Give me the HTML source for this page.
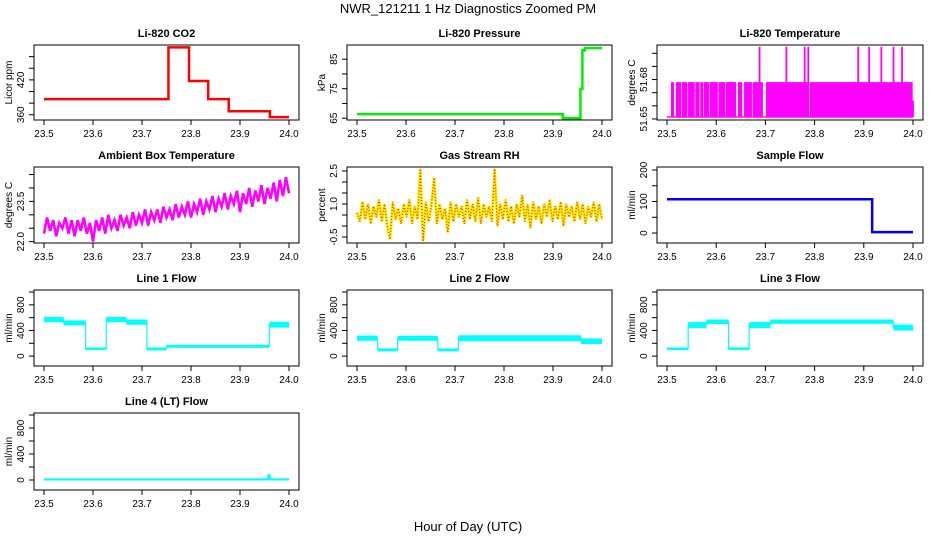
<!DOCTYPE html>
<html><head><meta charset="utf-8"><style>
html,body{margin:0;padding:0;background:#fff;}
svg{display:block;font-family:"Liberation Sans",sans-serif;}
</style></head><body>
<svg id="fig" width="936" height="540" viewBox="0 0 936 540" xmlns="http://www.w3.org/2000/svg">
<text x="468" y="13" text-anchor="middle" font-size="13">NWR_121211  1 Hz Diagnostics Zoomed PM</text>
<text x="468" y="531" text-anchor="middle" font-size="13">Hour of Day (UTC)</text>
</svg>
<script>
// ---- data ----
const xTicks = [23.5, 23.6, 23.7, 23.8, 23.9, 24.0];
const xTickLabels = ["23.5","23.6","23.7","23.8","23.9","24.0"];
// CO2 steps
const co2Start = [23.5, 23.754, 23.796, 23.835, 23.877, 23.961];
const co2End   = [23.754, 23.796, 23.835, 23.877, 23.961, 24.0];
const co2Val   = [387, 476, 418, 387, 366, 356];
// Pressure steps
const presStart = [23.5, 23.92, 23.956, 23.960, 23.965];
const presEnd   = [23.92, 23.956, 23.960, 23.965, 24.0];
const presVal   = [66.4, 65.0, 75.0, 88.0, 88.8];
// Li-820 temperature (per-sample level codes)
const tempCodes = "LLMMLLMMMMLMMMMLMMMMMLMMMLMMLMMMMLMMMMMMLMMMMMLMMMMMMMMLLMMMLLMMMMMMLMMMMMPMMLLLMMMMMMMMMMMMMMMMPMMMMMMMMMMMMMMPMMPLMMMMMMMMMMMMMMMMMMMMMMMMMMMMMMMMMMMMMMMPMMMMMMMMPMMMMMMMMMPMMMMMMMMMPMMMMMMPMMMMMMMMH";
const tempLevels = {L: 51.6515, M: 51.678, P: 51.705, H: 51.664};
// Ambient box temperature
const ambVals = [22.3,22.9,22.4,22.8,22.2,22.7,22.5,22.9,22.3,22.8,22.2,22.8,22.4,22.9,22.3,22.7,22.0,22.8,22.4,22.9,22.3,23.0,22.5,22.8,22.4,23.0,22.6,22.9,22.5,23.1,22.6,23.0,22.7,23.2,22.6,23.1,22.8,23.2,22.7,23.3,22.9,23.2,22.8,23.4,22.9,23.3,23.0,23.5,22.9,23.4,23.1,23.6,23.0,23.5,23.2,23.7,23.1,23.6,23.3,23.8,23.2,23.7,23.4,23.9,23.1,23.8,23.4,24.0,23.3,23.9,23.5,24.1,23.4,24.0,23.6,24.2,23.5,24.3,23.7,24.4,23.8];
// Gas stream RH
const rhVals = [0.6,0.2,1.1,0.3,1.0,0.1,0.9,0.4,1.2,0.2,1.0,0.0,-0.6,1.1,0.3,0.8,0.1,1.0,0.4,1.2,0.1,0.9,0.3,2.6,-0.7,1.1,0.2,0.9,2.2,0.1,1.0,0.3,0.8,-0.3,1.1,0.2,1.0,0.4,0.9,0.1,1.2,0.3,1.0,0.2,1.3,0.1,1.0,0.4,0.9,0.2,2.6,0.0,1.0,0.3,1.2,0.2,0.9,0.1,1.0,0.4,1.4,0.2,1.0,-0.1,1.1,0.3,0.9,0.1,1.0,0.4,1.2,0.2,0.9,0.3,1.1,0.0,1.0,0.4,0.9,0.2,1.1,0.3,1.0,0.1,0.9,0.4,1.1,0.2,1.0,0.3];
// Sample flow
const sfStart = [23.5, 23.917];
const sfEnd   = [23.917, 24.0];
const sfVal   = [107, 3];
// Line flows (step segments: start, end, low, high)
const l1Start = [23.5, 23.54, 23.585, 23.627, 23.668, 23.71, 23.75, 23.96];
const l1End   = [23.54, 23.585, 23.627, 23.668, 23.71, 23.75, 23.96, 24.0];
const l1Lo    = [540, 490, 105, 540, 500, 100, 140, 455];
const l1Hi    = [600, 545, 125, 600, 560, 125, 165, 525];
const l2Start = [23.5, 23.542, 23.583, 23.665, 23.707, 23.957];
const l2End   = [23.542, 23.583, 23.665, 23.707, 23.957, 24.0];
const l2Lo    = [250, 85, 250, 85, 245, 200];
const l2Hi    = [310, 110, 305, 110, 315, 265];
const l3Start = [23.5, 23.543, 23.58, 23.625, 23.667, 23.71, 23.96];
const l3End   = [23.543, 23.58, 23.625, 23.667, 23.71, 23.96, 24.0];
const l3Lo    = [105, 450, 510, 105, 450, 515, 410];
const l3Hi    = [125, 520, 560, 125, 520, 560, 480];
const l4Start = [23.5, 23.956, 23.962];
const l4End   = [23.956, 23.962, 24.0];
const l4Lo    = [3, 5, 3];
const l4Hi    = [15, 80, 15];

// ---- layout ----
const colL = [34, 347, 657], colR = [299, 612, 923];
const rowT = [45, 167, 290, 413], rowB = [120, 243, 366, 490];
const svg = document.getElementById('fig');
const NS = 'http://www.w3.org/2000/svg';
function mk(tag, attrs, name, parent) {
  const el = document.createElementNS(NS, tag);
  for (const k in attrs) el.setAttribute(k, attrs[k]);
  
  
  (parent || svg).appendChild(el);
  return el;
}
function panel(key, col, row, title, ylab, ymin, ymax, yticks, ylabels) {
  const L = colL[col], R = colR[col], T = rowT[row], B = rowB[row];
  const x0 = L + 10, x1 = R - 10;
  const g = mk('g', {}, key + '-panel');
  const sx = t => x0 + (t - 23.5) / 0.5 * (x1 - x0);
  const sy = v => B - (v - ymin) / (ymax - ymin) * (B - T);
  mk('rect', {x: L, y: T, width: R - L, height: B - T, fill: 'none', stroke: '#000', 'stroke-width': 1}, key + '-plot-box', g);
  const tt = mk('text', {x: (L + R) / 2, y: T - 8, 'text-anchor': 'middle', 'font-size': 11, 'font-weight': 'bold'}, key + '-title', g);
  tt.textContent = title;
  xTicks.forEach((t, i) => {
    mk('line', {x1: sx(t), x2: sx(t), y1: B, y2: B + 5, stroke: '#000'}, key + '-x-tick', g);
    const tx = mk('text', {x: sx(t), y: B + 17, 'text-anchor': 'middle', 'font-size': 10}, key + '-x-tick-label', g);
    tx.textContent = xTickLabels[i];
  });
  yticks.forEach((v, i) => {
    mk('line', {x1: L - 5, x2: L, y1: sy(v), y2: sy(v), stroke: '#000'}, key + '-y-tick', g);
    if (ylabels[i]) {
      const ty = mk('text', {x: L - 10, y: sy(v), 'text-anchor': 'middle', 'font-size': 10, transform: `rotate(-90 ${L - 10} ${sy(v)})`}, key + '-y-tick-label', g);
      ty.textContent = ylabels[i];
    }
  });
  const yl = mk('text', {x: L - 22, y: (T + B) / 2, 'text-anchor': 'middle', 'font-size': 10, transform: `rotate(-90 ${L - 22} ${(T + B) / 2})`}, key + '-y-axis-title', g);
  yl.textContent = ylab;
  return {g, sx, sy};
}
function steps(p, key, st, en, val, color, w) {
  let pts = [];
  st.forEach((s, i) => { pts.push(p.sx(s) + ',' + p.sy(val[i])); pts.push(p.sx(en[i]) + ',' + p.sy(val[i])); });
  mk('polyline', {points: pts.join(' '), fill: 'none', stroke: color, 'stroke-width': w}, key + '-series-line', p.g);
}
function bands(p, key, st, en, lo, hi, color) {
  let pts = [];
  st.forEach((s, i) => {
    const yl = p.sy(lo[i]), yh = p.sy(hi[i]);
    mk('rect', {x: p.sx(s), y: yh - 0.7, width: Math.max(0.5, p.sx(en[i]) - p.sx(s)), height: yl - yh + 1.4, fill: color}, key + '-band', p.g);
    const ym = p.sy((lo[i] + hi[i]) / 2);
    pts.push(p.sx(s) + ',' + ym); pts.push(p.sx(en[i]) + ',' + ym);
  });
  mk('polyline', {points: pts.join(' '), fill: 'none', stroke: color, 'stroke-width': 1.2}, key + '-series-line', p.g);
}
function series(p, key, vals, color, w, dash) {
  const n = vals.length;
  const pts = vals.map((v, i) => p.sx(23.5 + i * 0.5 / (n - 1)) + ',' + p.sy(v)).join(' ');
  const a = {points: pts, fill: 'none', stroke: color, 'stroke-width': w};
  if (dash) a['stroke-dasharray'] = dash;
  mk('polyline', a, key + '-series-line', p.g);
}

// CO2
let p = panel('co2', 0, 0, 'Li-820 CO2', 'Licor ppm', 351, 480, [360,380,400,420,440,460], ['360','','','420','','']);
steps(p, 'co2', co2Start, co2End, co2Val, '#ff0000', 2.5);
// Pressure
p = panel('pressure', 1, 0, 'Li-820 Pressure', 'kPa', 64.4, 89.8, [65,70,75,80,85], ['65','','75','','85']);
steps(p, 'pressure', presStart, presEnd, presVal, '#00ee00', 2.5);
// Li-820 temperature
p = panel('li820-temp', 2, 0, 'Li-820 Temperature', 'degrees C', 51.6492, 51.7063, [51.65,51.66,51.67,51.68,51.69,51.70], ['51.65','','','51.68','','']);
(function(){
  const n = tempCodes.length;
  const base = tempLevels.L;
  mk('line', {x1: p.sx(23.5), x2: p.sx(24.0), y1: p.sy(base), y2: p.sy(base), stroke: '#ff00ff', 'stroke-width': 1.5}, 'li820-temp-baseline', p.g);
  for (let i = 0; i < n; i++) {
    const v = tempLevels[tempCodes[i]];
    if (v === base) continue;
    const x = p.sx(23.505 + i * 0.495 / (n - 1));
    mk('line', {x1: x, x2: x, y1: p.sy(base), y2: p.sy(v), stroke: '#ff00ff', 'stroke-width': 1.8}, 'li820-temp-sample', p.g);
  }
})();
// Ambient
p = panel('ambient-temp', 0, 1, 'Ambient Box Temperature', 'degrees C', 21.95, 24.78, [22.0,22.5,23.0,23.5,24.0,24.5], ['22.0','','','23.5','','']);
series(p, 'ambient-temp', ambVals, '#ff00ff', 2.6);
// RH
p = panel('rh', 1, 1, 'Gas Stream RH', 'percent', -0.77, 2.68, [-0.5,0,0.5,1.0,1.5,2.0,2.5], ['-0.5','','','1.0','','','2.5']);
series(p, 'rh', rhVals, '#ffee00', 2.8);
series(p, 'rh-red', rhVals, '#ff2200', 1.2, '1 2');
// Sample flow
p = panel('sample-flow', 2, 1, 'Sample Flow', 'ml/min', -31.6, 209.5, [0,50,100,150,200], ['0','','100','','200']);
steps(p, 'sample-flow', sfStart, sfEnd, sfVal, '#0000ff', 2.5);
// Line flows
const flowTicks = [0,200,400,600,800,1000], flowLabels = ['0','','400','','800',''];
p = panel('line1-flow', 0, 2, 'Line 1 Flow', 'ml/min', -154, 1031, flowTicks, flowLabels);
bands(p, 'line1-flow', l1Start, l1End, l1Lo, l1Hi, '#00ffff');
p = panel('line2-flow', 1, 2, 'Line 2 Flow', 'ml/min', -154, 1031, flowTicks, flowLabels);
bands(p, 'line2-flow', l2Start, l2End, l2Lo, l2Hi, '#00ffff');
p = panel('line3-flow', 2, 2, 'Line 3 Flow', 'ml/min', -154, 1031, flowTicks, flowLabels);
bands(p, 'line3-flow', l3Start, l3End, l3Lo, l3Hi, '#00ffff');
p = panel('line4-flow', 0, 3, 'Line 4 (LT) Flow', 'ml/min', -154, 1031, flowTicks, flowLabels);
bands(p, 'line4-flow', l4Start, l4End, l4Lo, l4Hi, '#00ffff');
</script>
</body></html>
